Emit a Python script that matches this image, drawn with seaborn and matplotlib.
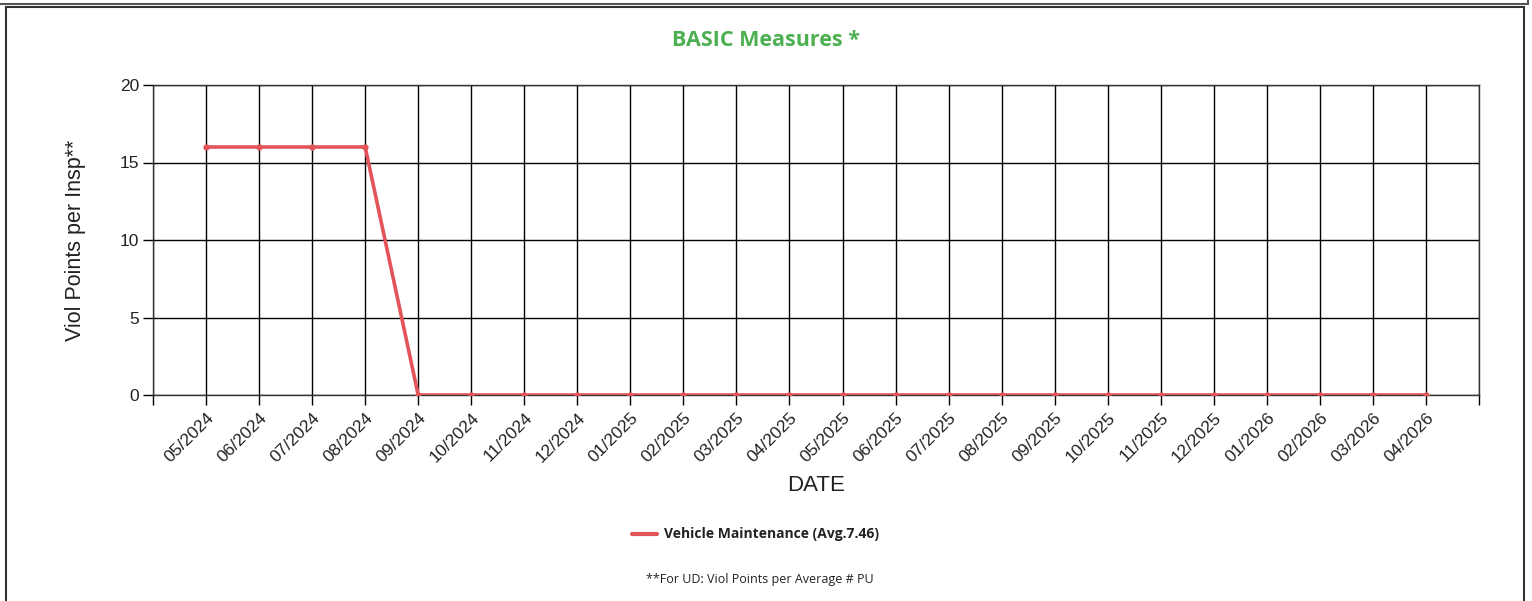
import matplotlib
matplotlib.use("Agg")
import matplotlib.pyplot as plt
import seaborn as sns
import numpy as np
import pandas as pd
from matplotlib.patches import Rectangle
from matplotlib.lines import Line2D

months = ["05/2024", "06/2024", "07/2024", "08/2024", "09/2024", "10/2024", "11/2024",
          "12/2024", "01/2025", "02/2025", "03/2025", "04/2025", "05/2025", "06/2025",
          "07/2025", "08/2025", "09/2025", "10/2025", "11/2025", "12/2025", "01/2026",
          "02/2026", "03/2026", "04/2026"]
values = [16, 16, 16, 16, 0, 0, 0, 0, 0, 0, 0, 0, 0, 0, 0, 0, 0, 0, 0, 0, 0, 0, 0, 0]
series_name = "Vehicle Maintenance (Avg.7.46)"
y_ticks = [0, 5, 10, 15, 20]

sns.set_theme(style="white")
plt.rcParams['font.family'] = ['Liberation Sans', 'DejaVu Sans']

df = pd.DataFrame({"pos": np.arange(len(months)), "month": months, "value": values})

fig = plt.figure(figsize=(15.32, 6.01), dpi=100)
ax = fig.add_axes([153/1532, 1-395/601, (1479-153)/1532, (395-85)/601])

red = "#e25459"
sns.lineplot(data=df, x="pos", y="value", ax=ax, color=red, linewidth=2.6,
             marker="o", markersize=4.5, markeredgewidth=0, legend=False, zorder=5)

ax.set_xlim(-1, len(months))
ax.set_ylim(0, 20)
ax.set_yticks(y_ticks)
ax.set_yticklabels([str(t) for t in y_ticks], fontsize=12.5, color="#222222")
xt = list(range(-1, len(months) + 1))
ax.set_xticks(xt)
ax.set_xticklabels([""] + months + [""], rotation=45, ha="right",
                   rotation_mode="anchor", fontsize=12.5, color="#222222")
ax.grid(True, color="black", linewidth=1.0)
ax.set_axisbelow(True)
for s in ax.spines.values():
    s.set_color("#333333")
    s.set_linewidth(1.0)
ax.tick_params(axis="both", which="both", length=7, width=1, color="black",
               bottom=True, left=True, pad=3)
ax.tick_params(axis="x", pad=4)
ax.set_xlabel("DATE", fontsize=16, color="#222222", labelpad=7)
ax.set_ylabel("Viol Points per Insp**", fontsize=15.5, color="#222222", labelpad=24)

fig.text(0.5, 1-40/601, "BASIC Measures *", ha="center", va="center",
         fontsize=15.5, fontweight="bold", color="#4caf50", family=["Open Sans", "DejaVu Sans"])

# legend
fig.add_artist(Line2D([632/1532, 657/1532], [1-534/601, 1-534/601], color=red, linewidth=3))
fig.text(664/1532, 1-534/601, series_name, ha="left", va="center", fontsize=10,
         fontweight="bold", color="#222222", family=["Open Sans", "DejaVu Sans"])
fig.text(760/1532, 1-579/601, "**For UD: Viol Points per Average # PU", ha="center", va="center",
         fontsize=9, color="#222222", family=["Open Sans", "DejaVu Sans"])

# outer frames
fig.add_artist(Rectangle((6/1532, -0.01), (1524-6)/1532, (601-7)/601 + 0.01,
                         transform=fig.transFigure, fill=False, edgecolor="#333333", linewidth=1.5))
fig.add_artist(Line2D([0, 1528/1532], [1-4/601, 1-4/601], color="#555555", linewidth=1.5))
fig.add_artist(Line2D([1528/1532, 1528/1532], [1-4/601, 1.0], color="#555555", linewidth=1.5))

fig.savefig("out.png", dpi=100)
